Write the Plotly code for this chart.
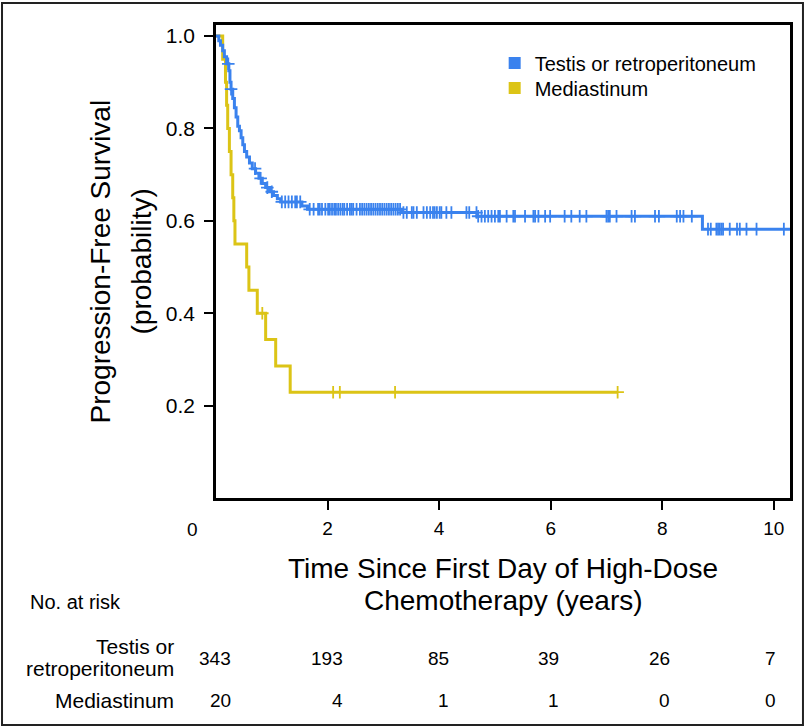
import plotly.graph_objects as go

# ---------------- data ----------------
# Kaplan-Meier step curve: Testis or retroperitoneum (time in years, survival after step)
testis_t = [0, 0.05, 0.08, 0.12, 0.15, 0.19, 0.23, 0.25, 0.27, 0.30, 0.33, 0.36, 0.39,
            0.42, 0.45, 0.48, 0.51, 0.55, 0.60, 0.65, 0.71, 0.77, 0.83, 0.89, 0.96,
            1.03, 1.10, 1.16, 1.54, 1.64, 3.33, 4.68, 8.72]
testis_s = [1.0, 0.99, 0.98, 0.968, 0.955, 0.94, 0.925, 0.90, 0.885, 0.865, 0.845, 0.825, 0.805,
            0.795, 0.78, 0.765, 0.75, 0.738, 0.725, 0.713, 0.703, 0.692, 0.681, 0.672, 0.663,
            0.655, 0.648, 0.641, 0.632, 0.625, 0.618, 0.610, 0.582]
testis_end = 10.29
testis_censor = [0.22, 0.27, 0.70, 0.80, 0.92, 1.00, 1.18, 1.24, 1.30, 1.36, 1.42, 1.45, 1.51,
                 1.68, 1.75, 1.83, 1.86, 1.90, 1.96, 2.01, 2.04, 2.08, 2.12, 2.15, 2.19, 2.23,
                 2.27, 2.30, 2.35, 2.40, 2.43, 2.46, 2.52, 2.58, 2.62, 2.66, 2.70, 2.74, 2.78,
                 2.82, 2.86, 2.90, 2.94, 2.98, 3.02, 3.06, 3.10, 3.14, 3.18, 3.22, 3.26, 3.30,
                 3.36, 3.42, 3.51, 3.54, 3.60, 3.72, 3.78, 3.84, 3.89, 3.92, 3.96, 4.01, 4.04,
                 4.13, 4.22, 4.49, 4.54, 4.67,
                 4.70, 4.76, 4.82, 4.88, 4.94, 5.00, 5.06, 5.09, 5.21, 5.33, 5.36, 5.54, 5.69,
                 5.72, 5.78, 5.90, 5.99, 6.25, 6.37, 6.52, 6.64, 7.00, 7.03, 7.06, 7.18, 7.45,
                 7.51, 7.87, 7.94, 8.26, 8.32, 8.38, 8.53,
                 8.82, 8.87, 8.97, 9.00, 9.03, 9.06, 9.09, 9.21, 9.34, 9.39, 9.51, 9.69, 10.18]

# Kaplan-Meier step curve: Mediastinum
medi_t = [0, 0.12, 0.17, 0.19, 0.21, 0.24, 0.27, 0.30, 0.32, 0.34, 0.55, 0.59, 0.74, 0.89, 1.07, 1.33]
medi_s = [1.0, 0.95, 0.90, 0.85, 0.80, 0.75, 0.70, 0.65, 0.60, 0.55, 0.50, 0.45, 0.40, 0.343, 0.286, 0.229]
medi_end = 7.2
medi_censor = [0.83, 2.10, 2.22, 3.21, 7.2]

series_names = ["Testis or retroperitoneum", "Mediastinum"]

# axis ticks
x_ticks = [2, 4, 6, 8, 10]
y_ticks = [0.2, 0.4, 0.6, 0.8, 1.0]
y_ticklabels = ["0.2", "0.4", "0.6", "0.8", "1.0"]

# number at risk table
risk_times = [0, 2, 4, 6, 8, 10]
risk_testis = [343, 193, 85, 39, 26, 7]
risk_medi = [20, 4, 1, 1, 0, 0]

# ---------------- style ----------------
BLUE = "#3a82ee"
YELLOW = "#dcc416"
FONT = "Liberation Sans, Arial, Helvetica, sans-serif"
risk_xshift = [17, 17, 12, 10, 10, 4]


def surv_at(t, times, surv):
    val = surv[0]
    for ti, si in zip(times, surv):
        if ti <= t:
            val = si
    return val


fig = go.Figure()

for times, surv, end, cens, color in [
    (medi_t, medi_s, medi_end, medi_censor, YELLOW),
    (testis_t, testis_s, testis_end, testis_censor, BLUE),
]:
    fig.add_trace(go.Scatter(
        x=times + [end], y=surv + [surv[-1]], mode="lines",
        line=dict(shape="hv", color=color, width=3), showlegend=False, hoverinfo="skip"))
    fig.add_trace(go.Scatter(
        x=cens, y=[surv_at(c, times, surv) for c in cens], mode="markers",
        marker=dict(symbol="cross-thin", size=9, line=dict(color=color, width=1.8)),
        showlegend=False, hoverinfo="skip"))

# legend entries (one legend each, for exact row placement)
for name, color, leg in zip(series_names, [BLUE, YELLOW], ["legend", "legend2"]):
    fig.add_trace(go.Scatter(
        x=[None], y=[None], mode="markers", name=name, legend=leg,
        marker=dict(symbol="square", size=12, color=color)))

axis_common = dict(showline=True, linewidth=2.5, linecolor="black", mirror=True,
                   showgrid=False, zeroline=False, ticks="outside", ticklen=9,
                   tickwidth=2, tickcolor="black")

fig.update_xaxes(range=[0, 10.29], tickvals=x_ticks, ticktext=[str(v) for v in x_ticks],
                 tickfont=dict(size=19, color="black", family=FONT),
                 ticklabelstandoff=2, **axis_common)
fig.update_yaxes(range=[0, 1.024], tickvals=y_ticks, ticktext=y_ticklabels,
                 tickfont=dict(size=21, color="black", family=FONT),
                 ticklabelstandoff=5, **axis_common)

ann = []
# "0" tick label (offset in the original)
ann.append(dict(x=0, y=0, xref="x", yref="paper", text="0", showarrow=False,
                xshift=-24, yshift=-31, xanchor="center", yanchor="middle",
                font=dict(size=19, color="black", family=FONT)))
# y title (two lines)
ann.append(dict(x=0, y=0.5, xref="paper", yref="paper", text="Progression-Free Survival",
                showarrow=False, textangle=-90, xshift=-116, xanchor="center", yanchor="middle",
                font=dict(size=28, color="black", family=FONT)))
ann.append(dict(x=0, y=0.5, xref="paper", yref="paper", text="(probability)",
                showarrow=False, textangle=-90, xshift=-75, xanchor="center", yanchor="middle",
                font=dict(size=28, color="black", family=FONT)))
# x title (two lines)
ann.append(dict(x=0.5, y=0, xref="paper", yref="paper", text="Time Since First Day of High-Dose",
                showarrow=False, yshift=-70, xanchor="center", yanchor="middle",
                font=dict(size=28, color="black", family=FONT)))
ann.append(dict(x=0.5, y=0, xref="paper", yref="paper", text="Chemotherapy (years)",
                showarrow=False, yshift=-102, xanchor="center", yanchor="middle",
                font=dict(size=28, color="black", family=FONT)))
# risk table
ann.append(dict(x=0, y=0, xref="paper", yref="paper", text="No. at risk", showarrow=False,
                xshift=-188, yshift=-104, xanchor="left", yanchor="middle",
                font=dict(size=20, color="black", family=FONT)))
ann.append(dict(x=0, y=0, xref="paper", yref="paper", text="Testis or", showarrow=False,
                xshift=-40, yshift=-148, xanchor="right", yanchor="middle",
                font=dict(size=21, color="black", family=FONT)))
ann.append(dict(x=0, y=0, xref="paper", yref="paper", text="retroperitoneum", showarrow=False,
                xshift=-40, yshift=-170, xanchor="right", yanchor="middle",
                font=dict(size=21, color="black", family=FONT)))
ann.append(dict(x=0, y=0, xref="paper", yref="paper", text="Mediastinum", showarrow=False,
                xshift=-40, yshift=-202, xanchor="right", yanchor="middle",
                font=dict(size=21, color="black", family=FONT)))
for t, a, b, sh in zip(risk_times, risk_testis, risk_medi, risk_xshift):
    ann.append(dict(x=t, y=0, xref="x", yref="paper", text=str(a), showarrow=False,
                    xshift=sh, yshift=-160, xanchor="right", yanchor="middle",
                    font=dict(size=19, color="black", family=FONT)))
    ann.append(dict(x=t, y=0, xref="x", yref="paper", text=str(b), showarrow=False,
                    xshift=sh, yshift=-202, xanchor="right", yanchor="middle",
                    font=dict(size=19, color="black", family=FONT)))

legend_style = dict(xanchor="left", yanchor="middle",
                    font=dict(size=20, color="black", family=FONT),
                    bgcolor="rgba(0,0,0,0)", itemsizing="constant")

fig.update_layout(
    width=812, height=728,
    margin=dict(l=216, r=22, t=25, b=230),
    paper_bgcolor="white", plot_bgcolor="white",
    font=dict(family=FONT, color="black"),
    annotations=ann,
    legend=dict(x=0.4855, y=0.9197, **legend_style),
    legend2=dict(x=0.4855, y=0.8668, **legend_style),
    shapes=[dict(type="rect", xref="paper", yref="paper",
                 x0=-0.3728, x1=1.0226, y0=-0.4799, y1=1.0465,
                 line=dict(color="#222", width=2), fillcolor="rgba(0,0,0,0)", layer="below")],
)

fig.write_html("out.html",
               config={"displayModeBar": False},
               post_script="document.body.style.margin='0px';document.body.style.overflow='hidden';")
